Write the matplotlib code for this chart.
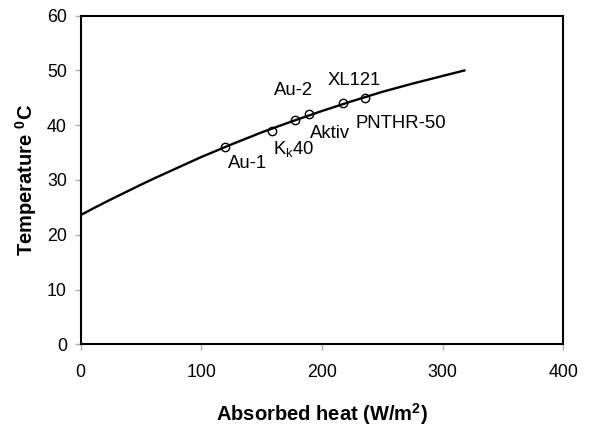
import matplotlib
matplotlib.use('Agg')
import matplotlib.pyplot as plt

plt.rcParams['font.family'] = ['Liberation Sans', 'DejaVu Sans']

# Curve
curve_x = [0, 12.5, 25, 37.5, 50, 62.5, 75, 87.5, 100, 112.5, 125, 137.5, 150,
           162.5, 175, 187.5, 200, 212.5, 225, 237.5, 250, 262.5, 275, 287.5,
           300, 318]
curve_y = [23.6, 25.05, 26.45, 27.8, 29.15, 30.45, 31.7, 32.95, 34.2, 35.35,
           36.5, 37.6, 38.7, 39.7, 40.7, 41.65, 42.6, 43.5, 44.4, 45.25, 46.1,
           46.85, 47.6, 48.3, 49.0, 50.0]

# Measured samples
names = ['Au-1', 'K$_\\mathregular{k}$40', 'Au-2', 'Aktiv', 'PNTHR-50', 'XL121']
heat = [119.5, 158.5, 177.5, 189, 217.5, 235.5]
temp = [36, 39, 41, 42, 44, 45]
label_x = [122, 159, 160.5, 190, 227.5, 204.5]
label_y = [33.1, 35.6, 46.3, 38.4, 40.4, 48.2]

fig = plt.figure(figsize=(5.99, 4.28), dpi=100)
ax = fig.add_axes([0.1347, 0.1956, 0.8057, 0.7677])

ax.plot(curve_x, curve_y, color='black', lw=1.7)
ax.plot(heat, temp, 'o', mfc='none', mec='black', ms=6, mew=1.0)

for n, lx, ly in zip(names, label_x, label_y):
    ax.text(lx, ly, n, ha='left', va='center', fontsize=13.3)

ax.set_xlim(0, 400)
ax.set_ylim(0, 60)
ax.set_xticks([0, 100, 200, 300, 400])
ax.set_yticks([0, 10, 20, 30, 40, 50, 60])
ax.tick_params(direction='out', length=4, width=1, color='#b0b0b0',
               labelsize=12.8)
ax.tick_params(axis='x', pad=10)
ax.tick_params(axis='y', pad=6)
for s in ax.spines.values():
    s.set_linewidth(1.5)

ax.set_xlabel('Absorbed heat (W/m$^\\mathregular{2}$)', fontsize=14.5,
              fontweight='bold', labelpad=15)
ax.set_ylabel('Temperature $^\\mathregular{0}$C', fontsize=14.5,
              fontweight='bold', labelpad=6)

fig.savefig('out.png', dpi=100)
